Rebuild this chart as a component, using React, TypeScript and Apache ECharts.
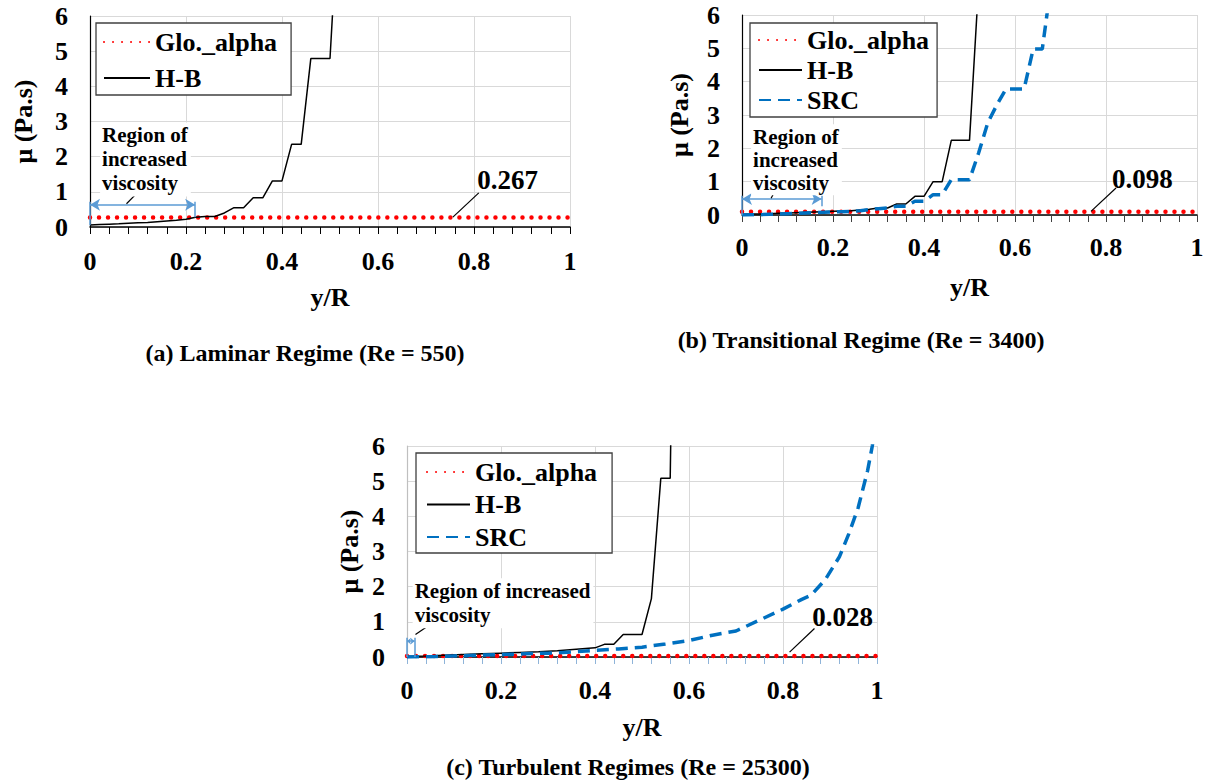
import React, { useEffect, useRef } from "react";
import * as echarts from "echarts";

const FONT = "Liberation Serif";

// Global (constant) viscosity of each regime, Pa.s
const GLO_A = 0.267;
const GLO_B = 0.098;
const GLO_C = 0.028;

// (a) Laminar, Re = 550 - Herschel-Bulkley viscosity profile
const A_HB_X = [0, 0.02, 0.04, 0.06, 0.08, 0.1, 0.12, 0.14, 0.16, 0.18, 0.2, 0.22, 0.24, 0.26, 0.28, 0.3, 0.32, 0.34, 0.36, 0.38, 0.4, 0.42, 0.44, 0.46, 0.48, 0.5, 0.52];
const A_HB_Y = [0.06, 0.07, 0.08, 0.09, 0.11, 0.12, 0.13, 0.15, 0.17, 0.19, 0.22, 0.28, 0.3, 0.3, 0.4, 0.55, 0.55, 0.83, 0.83, 1.31, 1.31, 2.35, 2.35, 4.79, 4.79, 4.79, 9.6];

// (b) Transitional, Re = 3400
const B_HB_X = [0, 0.02, 0.04, 0.06, 0.08, 0.1, 0.12, 0.14, 0.16, 0.18, 0.2, 0.22, 0.24, 0.26, 0.28, 0.3, 0.32, 0.34, 0.36, 0.38, 0.4, 0.42, 0.44, 0.46, 0.48, 0.5, 0.52];
const B_HB_Y = [0.02, 0.03, 0.03, 0.04, 0.05, 0.06, 0.07, 0.08, 0.09, 0.1, 0.11, 0.12, 0.13, 0.15, 0.17, 0.21, 0.21, 0.33, 0.33, 0.56, 0.56, 1.0, 1.0, 2.24, 2.24, 2.24, 6.9];
const B_SRC_X = [0, 0.02, 0.04, 0.06, 0.08, 0.1, 0.12, 0.14, 0.16, 0.18, 0.2, 0.22, 0.24, 0.26, 0.28, 0.3, 0.32, 0.34, 0.36, 0.38, 0.4, 0.42, 0.44, 0.46, 0.48, 0.5, 0.52, 0.54, 0.56, 0.58, 0.6, 0.62, 0.64, 0.66, 0.68];
const B_SRC_Y = [0, 0.01, 0.01, 0.02, 0.03, 0.04, 0.05, 0.06, 0.07, 0.08, 0.09, 0.1, 0.11, 0.13, 0.16, 0.19, 0.21, 0.26, 0.26, 0.41, 0.41, 0.61, 0.61, 1.06, 1.06, 1.06, 1.86, 2.76, 3.3, 3.78, 3.78, 3.78, 4.98, 4.98, 7.0];

// (c) Turbulent, Re = 25300
const C_HB_X = [0, 0.04, 0.08, 0.12, 0.16, 0.2, 0.24, 0.28, 0.32, 0.36, 0.4, 0.42, 0.44, 0.46, 0.48, 0.5, 0.52, 0.54, 0.56, 0.57];
const C_HB_Y = [0.02, 0.03, 0.05, 0.07, 0.09, 0.11, 0.13, 0.15, 0.18, 0.22, 0.26, 0.36, 0.36, 0.64, 0.64, 0.64, 1.66, 5.08, 5.08, 14];
const C_SRC_X = [0, 0.05, 0.1, 0.15, 0.2, 0.25, 0.3, 0.35, 0.4, 0.45, 0.5, 0.55, 0.6, 0.65, 0.7, 0.75, 0.8, 0.84, 0.86, 0.89, 0.92, 0.94, 0.96, 0.98, 0.99, 1.0];
const C_SRC_Y = [0, 0.01, 0.03, 0.05, 0.07, 0.09, 0.11, 0.14, 0.19, 0.23, 0.28, 0.37, 0.47, 0.62, 0.74, 1.05, 1.36, 1.64, 1.76, 2.2, 2.85, 3.5, 4.25, 5.3, 6.0, 7.0];

const CAPTIONS = [
  "(a) Laminar Regime (Re = 550)",
  "(b) Transitional Regime (Re = 3400)",
  "(c) Turbulent Regimes (Re = 25300)",
];
// caption centres, px
const CAPTION_POS = [
  [305, 353],
  [861, 340],
  [628, 767],
];

const zip = (xs: number[], ys: number[]) => xs.map((x, i) => [x, ys[i]]);
const flat = (v: number) => [[0, v], [1, v]];

const GRIDS = [
  { left: 90, top: 16, width: 480, height: 211 },
  { left: 742, top: 15, width: 455, height: 200 },
  { left: 407, top: 446, width: 470, height: 211 },
];

const bold = (size: number) => ({ fontFamily: FONT, fontWeight: "bold" as const, fontSize: size, color: "#000" });

function xAxis(i: number, tickColor: string, labelMargin: number, nameGap: number) {
  return {
    type: "value",
    gridIndex: i,
    min: 0,
    max: 1,
    interval: 0.2,
    name: "y/R",
    nameLocation: "middle",
    nameGap,
    nameTextStyle: bold(26),
    axisLine: { show: true, onZero: false, lineStyle: { color: "#000", width: 1.5 } },
    axisTick: { show: true, length: 7, lineStyle: { color: tickColor, width: 1 } },
    minorTick: { show: true, splitNumber: 5, length: 7, lineStyle: { color: tickColor, width: 1 } },
    axisLabel: { ...bold(26), margin: labelMargin },
    splitLine: { show: true, lineStyle: { color: "#d9d9d9", width: 1 } },
  };
}

function yAxis(i: number, lineColor: string, nameGap: number) {
  return {
    type: "value",
    gridIndex: i,
    min: 0,
    max: 6,
    interval: 1,
    name: "μ (Pa.s)",
    nameLocation: "middle",
    nameGap,
    nameTextStyle: bold(26),
    axisLine: { show: true, lineStyle: { color: lineColor, width: 1.2 } },
    axisTick: { show: false },
    axisLabel: { ...bold(26), margin: 22 },
    splitLine: { show: true, lineStyle: { color: "#d9d9d9", width: 1 } },
  };
}

const BLUE_NOTE = "#5b9bd5";

// Double-headed bracket marking the near-wall region, in data units
function bracket(x1: number, yArrow: number, yTop: number, yRightLow: number, yLeftLow: number, head: number[]) {
  return {
    silent: true,
    symbol: ["none", "none"],
    label: { show: false },
    lineStyle: { color: BLUE_NOTE, width: 1.5, type: "solid" },
    emphasis: { disabled: true },
    data: [
      [
        { coord: [0, yArrow], symbol: "arrow", symbolSize: head },
        { coord: [x1, yArrow], symbol: "arrow", symbolSize: head },
      ],
      [{ coord: [0, yTop] }, { coord: [0, yLeftLow] }],
      [{ coord: [x1, yTop] }, { coord: [x1, yRightLow] }],
    ],
  };
}

// Black callout leaders, in data units
function leaders(segs: number[][][]) {
  return {
    silent: true,
    symbol: ["none", "none"],
    label: { show: false },
    lineStyle: { color: "#000", width: 1.2, type: "solid" },
    emphasis: { disabled: true },
    data: segs.map(([a, b]) => [{ coord: a }, { coord: b }]),
  };
}

function gloSeries(i: number, v: number, mark: any) {
  return {
    type: "line",
    name: "Glo._alpha",
    xAxisIndex: i,
    yAxisIndex: i,
    data: flat(v),
    symbol: "none",
    lineStyle: { color: "#ff0000", width: 4.5, type: [0.01, 9], cap: "round" },
    itemStyle: { color: "#ff0000" },
    markLine: mark,
  };
}

function hbSeries(i: number, data: number[][], mark: any) {
  return {
    type: "line",
    name: "H-B",
    xAxisIndex: i,
    yAxisIndex: i,
    data,
    symbol: "none",
    lineStyle: { color: "#000", width: 1.5 },
    itemStyle: { color: "#000" },
    markLine: mark,
  };
}

function srcSeries(i: number, data: number[][]) {
  return {
    type: "line",
    name: "SRC",
    xAxisIndex: i,
    yAxisIndex: i,
    data,
    symbol: "none",
    lineStyle: { color: "#0070c0", width: 3.5, type: [12, 7] },
    itemStyle: { color: "#0070c0" },
  };
}

function legend(names: string[], left: number, top: number, itemGap: number, padding: number[], itemWidth: number) {
  return {
    data: names,
    orient: "vertical",
    left,
    top,
    itemGap,
    padding,
    itemWidth,
    itemHeight: 12,
    itemStyle: { opacity: 0 },
    textStyle: bold(26),
    backgroundColor: "#fff",
    borderColor: "#404040",
    borderWidth: 1.3,
    selectedMode: false,
  };
}

export default function App() {
  const ref = useRef<HTMLDivElement>(null);

  useEffect(() => {
    document.body.style.margin = "0";
    const chart = echarts.init(ref.current!, null, { renderer: "svg" });

    chart.setOption({
      animation: false,
      backgroundColor: "#fff",
      textStyle: { fontFamily: FONT },
      grid: GRIDS,
      xAxis: [xAxis(0, "#000", 21, 57), xAxis(1, "#404040", 19, 59), xAxis(2, "#8fb4d9", 20, 57)],
      yAxis: [yAxis(0, "#000", 54), yAxis(1, "#000", 50), yAxis(2, "#bfbfbf", 45)],
      legend: [
        legend(["Glo._alpha", "H-B"], 96, 23, 10, [6, 14, 4, 7], 46),
        legend(["Glo._alpha", "H-B", "SRC"], 750, 23, 4, [4, 8, 4, 8], 43),
        legend(["Glo._alpha", "H-B", "SRC"], 416, 453, 6.5, [6, 15, 3, 10], 43),
      ],
      series: [
        gloSeries(0, GLO_A, bracket(0.219, 0.63, 0.72, 0.28, 0.05, [9, 10])),
        hbSeries(0, zip(A_HB_X, A_HB_Y), leaders([
          [[0.756, 0.28], [0.81, 0.97]],
          [[0.076, 0.66], [0.1, 0.99]],
        ])),
        gloSeries(1, GLO_B, bracket(0.175, 0.48, 0.58, 0.26, 0, [9, 10])),
        hbSeries(1, zip(B_HB_X, B_HB_Y), leaders([
          [[0.767, 0.11], [0.822, 0.81]],
          [[0.064, 0.5], [0.069, 0.63]],
        ])),
        srcSeries(1, zip(B_SRC_X, B_SRC_Y)),
        gloSeries(2, GLO_C, bracket(0.016, 0.45, 0.55, 0, 0, [5, 4])),
        hbSeries(2, zip(C_HB_X, C_HB_Y), leaders([
          [[0.814, 0.14], [0.867, 0.81]],
          [[0.018, 0.64], [0.043, 0.87]],
        ])),
        srcSeries(2, zip(C_SRC_X, C_SRC_Y)),
      ],
    });

    const px = (g: number, x: number, y: number) =>
      chart.convertToPixel({ gridIndex: g } as any, [x, y]) as number[];

    const valueLabel = (g: number, text: string, x: number, y: number) => {
      const [cx, cy] = px(g, x, y);
      return {
        type: "text",
        z: 100,
        x: cx,
        y: cy,
        style: { text, fill: "#000", fontFamily: FONT, fontWeight: "bold", fontSize: 27, align: "center", verticalAlign: "middle" },
      };
    };

    const regionLabel = (g: number, text: string, x: number, y: number, lh: number) => {
      const [lx, ly] = px(g, x, y);
      return {
        type: "text",
        z: 100,
        x: lx,
        y: ly,
        style: {
          text,
          fill: "#000",
          fontFamily: FONT,
          fontWeight: "bold",
          fontSize: 21,
          lineHeight: lh,
          align: "left",
          verticalAlign: "middle",
          backgroundColor: "#fff",
          padding: [1, 3, 1, 2],
        },
      };
    };

    const caption = (i: number) => ({
      type: "text",
      z: 100,
      x: CAPTION_POS[i][0],
      y: CAPTION_POS[i][1],
      style: { text: CAPTIONS[i], fill: "#000", fontFamily: FONT, fontWeight: "bold", fontSize: 24, align: "center", verticalAlign: "middle" },
    });

    chart.setOption({
      graphic: [
        valueLabel(0, String(GLO_A), 0.87, 1.33),
        valueLabel(1, String(GLO_B), 0.88, 1.09),
        valueLabel(2, String(GLO_C), 0.927, 1.13),
        regionLabel(0, "Region of\nincreased\nviscosity", 0.021, 1.92, 24),
        regionLabel(1, "Region of\nincreased\nviscosity", 0.02, 1.66, 23),
        regionLabel(2, "Region of increased\nviscosity", 0.012, 1.53, 24),
        caption(0),
        caption(1),
        caption(2),
      ],
    });

    return () => chart.dispose();
  }, []);

  return <div ref={ref} style={{ width: 1207, height: 783 }} />;
}
